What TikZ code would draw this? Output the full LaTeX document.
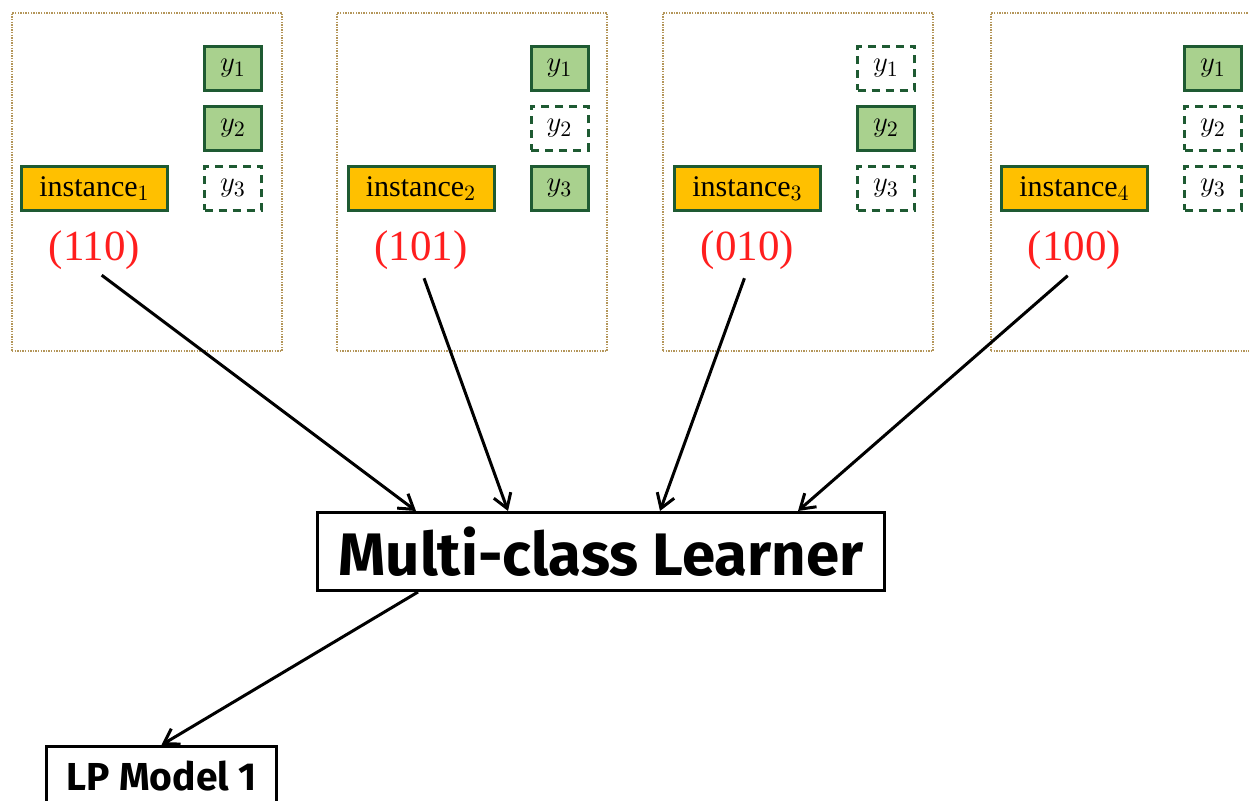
\documentclass[tikz,border=0pt]{standalone}
\usepackage{fontspec}
\usepackage{tikz}
\usetikzlibrary{positioning,arrows.meta}
\setmainfont{Liberation Serif}
\newfontfamily\learnerfont{Fira Sans}
\definecolor{leafgreen}{RGB}{169,209,142}
\definecolor{darkleaf}{RGB}{30,90,50}
\definecolor{amber}{RGB}{255,192,0}
\definecolor{sandline}{RGB}{180,150,90}
\definecolor{codered}{RGB}{255,30,30}
\tikzset{
  panel/.style={draw=sandline, line width=1.3pt, dash pattern=on 0.7pt off 0.6pt,
                minimum width=135pt, minimum height=169pt, inner sep=0pt},
  lblbox/.style={draw=darkleaf, line width=1.5pt, inner sep=0pt, minimum height=22pt,
                 font=\fontsize{15}{18}\selectfont},
  instbox/.style={lblbox, fill=amber, minimum width=73pt},
  onbox/.style={lblbox, fill=leafgreen, minimum width=28.5pt},
  offbox/.style={lblbox, fill=white, minimum width=28.5pt, dash pattern=on 4pt off 3pt},
  codelbl/.style={text=codered, inner sep=0pt, font=\fontsize{21.5}{24}\selectfont},
  learnerbox/.style={draw, line width=1.5pt, inner sep=0pt, minimum width=283.5pt,
                     minimum height=39pt, font=\learnerfont\bfseries\fontsize{30}{33}\selectfont},
  modelbox/.style={draw, line width=1.5pt, inner sep=0pt, minimum width=115pt,
                   minimum height=30pt, font=\learnerfont\bfseries\fontsize{19.5}{22}\selectfont},
  arrow/.style={-{Straight Barb[length=7pt,width=9pt]}, line width=1.5pt},
}

\begin{document}
\begin{tikzpicture}[x=0.5pt, y=-0.5pt, node distance=6.5pt]
  \useasboundingbox (0,0) rectangle (1249,801);

  % four training instances
  \node[panel] (P1) at (147,182) {};
  \node[panel] (P2) at (472,182) {};
  \node[panel] (P3) at (798,182) {};
  \node[panel] (P4) at (1126,182) {};

  \node[instbox]                      (I1) at (94.5,188.5) {instance$_1$};
  \node[offbox, right=17pt of I1]     (Y13) {$y_3$};
  \node[onbox, above=of Y13]          (Y12) {$y_2$};
  \node[onbox, above=of Y12]          (Y11) {$y_1$};
  \node[codelbl, below=9pt of I1]     (C1) {(110)};

  \node[instbox]                      (I2) at (421,188.5) {instance$_2$};
  \node[onbox, right=17pt of I2]      (Y23) {$y_3$};
  \node[offbox, above=of Y23]         (Y22) {$y_2$};
  \node[onbox, above=of Y22]          (Y21) {$y_1$};
  \node[codelbl, below=9pt of I2]     (C2) {(101)};

  \node[instbox]                      (I3) at (747.5,188.5) {instance$_3$};
  \node[offbox, right=17pt of I3]     (Y33) {$y_3$};
  \node[onbox, above=of Y33]          (Y32) {$y_2$};
  \node[offbox, above=of Y32]         (Y31) {$y_1$};
  \node[codelbl, below=9pt of I3]     (C3) {(010)};

  \node[instbox]                      (I4) at (1074.5,188.5) {instance$_4$};
  \node[offbox, right=17pt of I4]     (Y43) {$y_3$};
  \node[offbox, above=of Y43]         (Y42) {$y_2$};
  \node[onbox, above=of Y42]          (Y41) {$y_1$};
  \node[codelbl, below=9pt of I4]     (C4) {(100)};

  % learner and resulting model
  \node[learnerbox] (L) at (601,551.5) {Multi-class Learner};
  \node[modelbox]   (M) at (161.5,776.5) {LP Model 1};

  \draw[arrow, shorten <=4.5pt] (C1.south) -- ([xshift=50pt]L.north west);
  \draw[arrow, shorten <=4.5pt] (C2.south) -- ([xshift=96pt]L.north west);
  \draw[arrow, shorten <=4.5pt] (C3.south) -- ([xshift=172pt]L.north west);
  \draw[arrow, shorten <=4.5pt] (C4.south) -- ([xshift=241pt]L.north west);
  \draw[arrow] ([xshift=51pt]L.south west) -- (M.north);
\end{tikzpicture}
\end{document}
